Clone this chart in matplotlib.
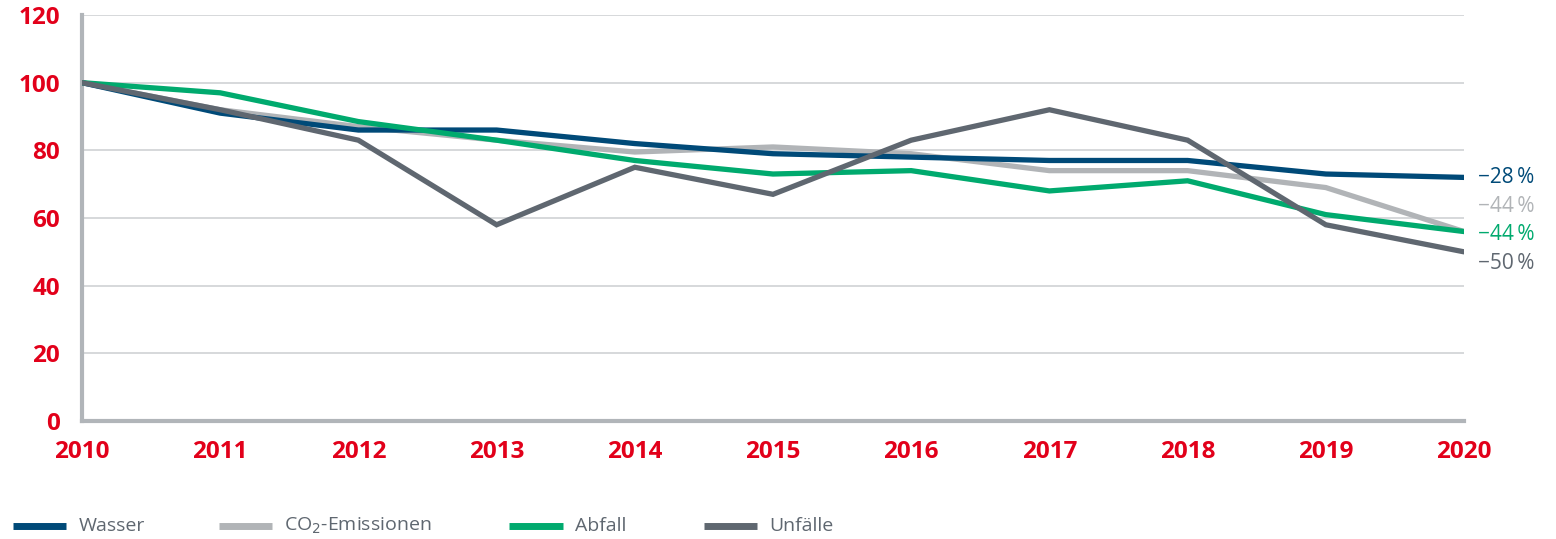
import matplotlib
matplotlib.use("Agg")
import matplotlib.pyplot as plt
from matplotlib.lines import Line2D

years = [2010, 2011, 2012, 2013, 2014, 2015, 2016, 2017, 2018, 2019, 2020]
wasser = [100, 91, 86, 86, 82, 79, 78, 77, 77, 73, 72]
co2 = [100, 92, 87, 83, 79.5, 81, 79, 74, 74, 69, 56]
abfall = [100, 97, 88.5, 83, 77, 73, 74, 68, 71, 61, 56]
unfaelle = [100, 92, 83, 58, 75, 67, 83, 92, 83, 58, 50]

series_names = ["Wasser", "CO$_2$-Emissionen", "Abfall", "Unfälle"]
end_labels = ["\u221228\u2009%", "\u221244\u2009%", "\u221244\u2009%", "\u221250\u2009%"]
y_ticks = [0, 20, 40, 60, 80, 100, 120]

colors = ["#004a78", "#b1b4b7", "#00aa6e", "#5f6770"]
red = "#e2001a"
grid_col = "#d3d5d8"
spine_col = "#b1b5b9"

plt.rcParams["font.family"] = ["Open Sans", "DejaVu Sans"]

W, H = 1556, 539
fig = plt.figure(figsize=(W / 100, H / 100), dpi=100)
ax = fig.add_axes([82 / W, 1 - 421 / H, (1464 - 82) / W, (421 - 15) / H])

ax.set_xlim(years[0], years[-1])
ax.set_ylim(0, 120)

for v in y_ticks[1:]:
    ax.axhline(v, color=grid_col, lw=1.3, zorder=0)

data = [wasser, co2, abfall, unfaelle]
draw_order = [1, 0, 2, 3]
for z, i in enumerate(draw_order):
    ax.plot(years, data[i], color=colors[i], lw=3.8,
            solid_capstyle="round", solid_joinstyle="miter", zorder=3 + z)

# labels at the right end of the lines
label_y = [72, 63.5, 55, 46.5]
for txt, yv, c in zip(end_labels, label_y, colors):
    ax.annotate(txt, xy=(years[-1], yv), xytext=(10, 0), textcoords="offset points",
                va="center", ha="left", fontsize=15, color=c, annotation_clip=False)

for s in ["top", "right"]:
    ax.spines[s].set_visible(False)
for s in ["left", "bottom"]:
    ax.spines[s].set_color(spine_col)
    ax.spines[s].set_linewidth(3)

ax.set_yticks(y_ticks)
ax.set_yticklabels([str(v) for v in y_ticks])
ax.set_xticks(years)
ax.set_xticklabels([str(y) for y in years])
ax.tick_params(axis="both", length=0, colors=red, labelsize=17.5)
ax.tick_params(axis="y", pad=16)
ax.tick_params(axis="x", pad=14)
for lab in ax.get_xticklabels() + ax.get_yticklabels():
    lab.set_fontweight("bold")
    lab.set_color(red)

# legend row along the bottom edge
handle_x = [(13, 66), (219, 272), (509, 563), (704, 757)]
text_x = [79, 284, 575, 769]
ly = 1 - 526 / H
for (x0, x1), tx, name, c in zip(handle_x, text_x, series_names, colors):
    fig.add_artist(Line2D([x0 / W, x1 / W], [ly, ly], transform=fig.transFigure,
                          color=c, lw=5, solid_capstyle="butt"))
    fig.text(tx / W, ly, name, ha="left", va="center", fontsize=14, color="#5f6770")

fig.savefig("out.png", dpi=100)
